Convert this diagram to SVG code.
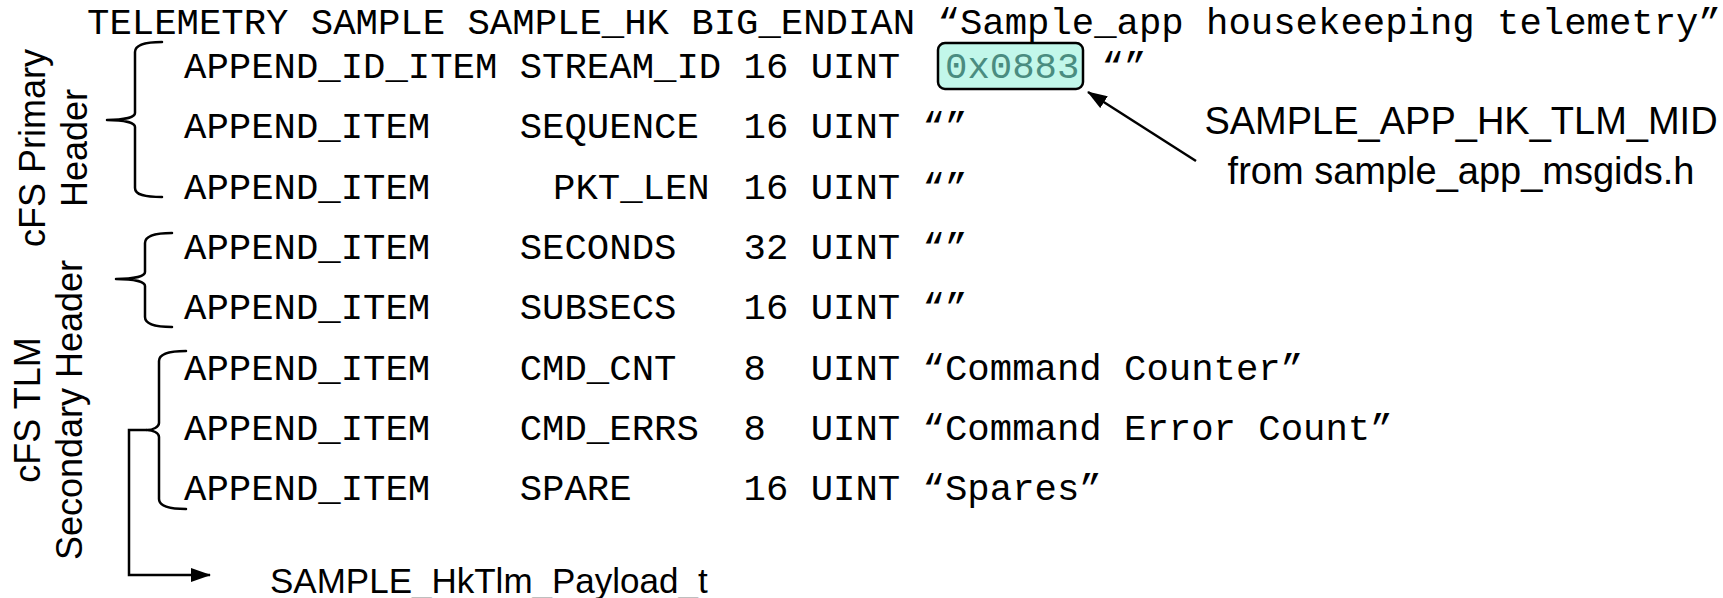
<svg xmlns="http://www.w3.org/2000/svg" width="1723" height="598" viewBox="0 0 1723 598">
  <style>
    .code { font-family: "Liberation Mono", "Courier New", monospace; font-size: 37.3px; fill: #000; white-space: pre; }
    .label { font-family: "Liberation Sans", Arial, sans-serif; font-size: 36px; fill: #000; }
    .big { font-size: 38px; }
    .brace { fill: none; stroke: #000; stroke-width: 2.5; stroke-linejoin: round; stroke-linecap: round; }
    .conn { fill: none; stroke: #000; stroke-width: 2.5; }
    .mid { fill: #c2f7ea; stroke: #000; stroke-width: 2.5; }
    .hex { fill: #4a8c80; }
  </style>
  <defs>
    <marker id="arrow" viewBox="0 0 20 14" refX="19" refY="7" markerWidth="20" markerHeight="14" markerUnits="userSpaceOnUse" orient="auto">
      <path d="M0 0 L20 7 L0 14 Z" fill="#000"/>
    </marker>
  </defs>

  <!-- packet definition line -->
  <g id="title">
    <text class="code" x="87" y="34" xml:space="preserve">TELEMETRY SAMPLE SAMPLE_HK BIG_ENDIAN “Sample_app housekeeping telemetry”</text>
  </g>

  <!-- primary header items -->
  <g id="row-stream-id">
    <rect class="mid" x="938" y="43" width="145" height="46" rx="7"/>
    <text class="code" x="184" y="78" xml:space="preserve">APPEND_ID_ITEM STREAM_ID 16 UINT</text>
    <text class="code hex" x="945" y="78">0x0883</text>
    <text class="code" x="1101.6" y="78">“”</text>
  </g>
  <g id="row-sequence">
    <text class="code" x="184" y="138" xml:space="preserve">APPEND_ITEM    SEQUENCE  16 UINT “”</text>
  </g>
  <g id="row-pkt-len">
    <text class="code" x="184" y="199">APPEND_ITEM</text>
    <text class="code" x="553" y="199">PKT_LEN</text>
    <text class="code" x="743.5" y="199" xml:space="preserve">16 UINT “”</text>
  </g>

  <!-- secondary header items -->
  <g id="row-seconds">
    <text class="code" x="184" y="259" xml:space="preserve">APPEND_ITEM    SECONDS   32 UINT “”</text>
  </g>
  <g id="row-subsecs">
    <text class="code" x="184" y="319" xml:space="preserve">APPEND_ITEM    SUBSECS   16 UINT “”</text>
  </g>

  <!-- payload items -->
  <g id="row-cmd-cnt">
    <text class="code" x="184" y="380" xml:space="preserve">APPEND_ITEM    CMD_CNT   8  UINT “Command Counter”</text>
  </g>
  <g id="row-cmd-errs">
    <text class="code" x="184" y="440" xml:space="preserve">APPEND_ITEM    CMD_ERRS  8  UINT “Command Error Count”</text>
  </g>
  <g id="row-spare">
    <text class="code" x="184" y="500" xml:space="preserve">APPEND_ITEM    SPARE     16 UINT “Spares”</text>
  </g>

  <!-- side captions -->
  <g id="primary-header-label">
    <text class="label" text-anchor="middle" transform="translate(45 148) rotate(-90)">cFS Primary</text>
    <text class="label" text-anchor="middle" transform="translate(87 148) rotate(-90)">Header</text>
  </g>
  <g id="secondary-header-label">
    <text class="label" text-anchor="middle" transform="translate(40 410) rotate(-90)">cFS TLM</text>
    <text class="label" text-anchor="middle" transform="translate(82 410) rotate(-90)">Secondary Header</text>
  </g>

  <g id="mid-label">
    <text class="label big" text-anchor="middle" x="1461" y="134">SAMPLE_APP_HK_TLM_MID</text>
    <text class="label big" text-anchor="middle" x="1461" y="184">from sample_app_msgids.h</text>
  </g>

  <g id="payload-label">
    <text class="label" style="font-size:35px" x="270" y="593">SAMPLE_HkTlm_Payload_t</text>
  </g>

  <!-- braces grouping the items -->
  <g id="braces">
    <path class="brace" d="M162 42 C145 42 135 45 135 52 V113 C135 117 125 120 107 120 C125 120 135 123 135 127 V188 C135 195 145 197 162 197"/>
    <path class="brace" d="M172 233 C155 233 145 236 145 243 V272 C145 276 135 279 116 279 C135 279 145 282 145 286 V317 C145 324 155 327 172 327"/>
    <path class="brace" d="M186 351 C169 351 159 354 159 361 V423 C159 427 153 430 147 430 C153 430 159 433 159 437 V499 C159 506 169 509 186 509"/>
  </g>

  <!-- connectors -->
  <g id="connectors">
    <line class="conn" x1="1196" y1="161" x2="1088" y2="92" marker-end="url(#arrow)"/>
    <path class="conn" d="M147 430 H129 V575 H210" marker-end="url(#arrow)"/>
  </g>
</svg>
